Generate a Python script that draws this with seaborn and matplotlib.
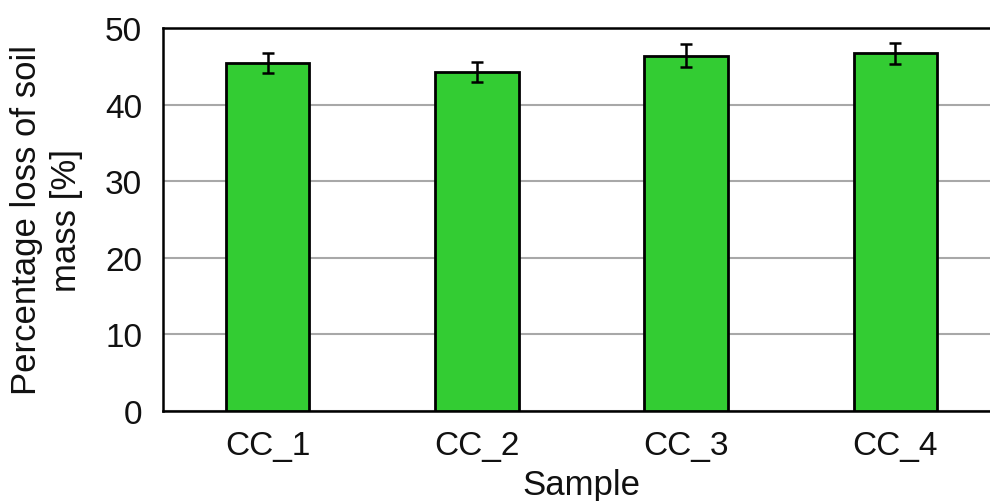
import matplotlib
matplotlib.use("Agg")
import matplotlib.pyplot as plt
import seaborn as sns
import pandas as pd
import numpy as np

samples = ["CC_1", "CC_2", "CC_3", "CC_4"]
loss = [45.4, 44.2, 46.4, 46.7]
err = [1.3, 1.3, 1.45, 1.4]
yticks = [0, 10, 20, 30, 40, 50]

sns.set_theme(style="white")
plt.rcParams['font.family'] = ['Liberation Sans', 'DejaVu Sans']

df = pd.DataFrame({"Sample": samples, "loss": loss})

fig = plt.figure(figsize=(9.9, 5.02), dpi=100)
ax = fig.add_axes([163/990, 90/502, (1000-163)/990, (412-29)/502])

sns.barplot(data=df, x="Sample", y="loss", color="#33CC33", saturation=1,
            width=0.4, edgecolor="black", linewidth=2.0, errorbar=None, ax=ax, zorder=3)
ax.errorbar(x=np.arange(len(samples)), y=loss, yerr=err, fmt="none",
            ecolor="black", elinewidth=1.8, capsize=4.6, capthick=1.8, zorder=4)

ax.set_ylim(0, 50)
ax.set_xlim(-0.5, len(samples) - 0.5)
ax.set_yticks(yticks)
ax.yaxis.grid(True, color="#A8A8A8", linewidth=1.5, zorder=0)
ax.set_axisbelow(True)

for s in ["left", "bottom", "top"]:
    ax.spines[s].set_visible(True)
    ax.spines[s].set_color("black")
    ax.spines[s].set_linewidth(1.8)
ax.spines["right"].set_visible(False)

ax.tick_params(axis="both", which="both", direction="out", length=7, width=1.2,
               color="black", labelsize=24, labelcolor="#111111")
ax.tick_params(axis="y", pad=8)
ax.tick_params(axis="x", pad=8, length=6)

ax.set_xlabel("Sample", fontsize=25, color="#111111", labelpad=5)
ax.set_ylabel("Percentage loss of soil\nmass [%]", fontsize=25, color="#111111",
              labelpad=16, linespacing=1.25)

fig.savefig("out.png", dpi=100)
